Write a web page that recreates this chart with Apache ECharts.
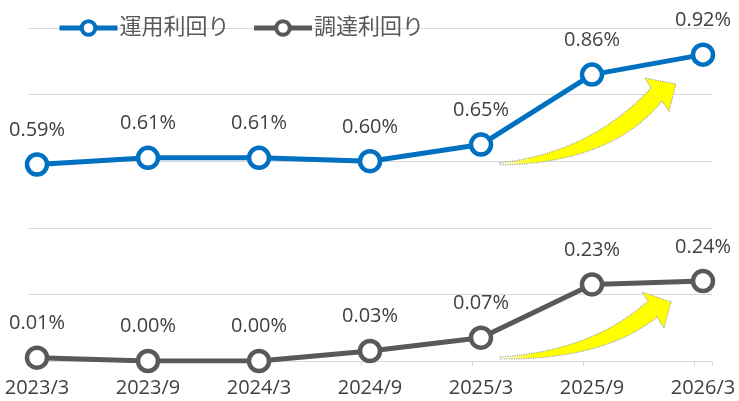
<!DOCTYPE html>
<html>
<head>
<meta charset="utf-8">
<script src="https://cdn.jsdelivr.net/npm/echarts@6/dist/echarts.min.js"></script>
<style>
html,body{margin:0;padding:0;background:#fff;}
#chart{width:739px;height:401px;}
</style>
</head>
<body>
<div id="chart"></div>
<script>
const categories = ['2023/3','2023/9','2024/3','2024/9','2025/3','2025/9','2026/3'];
const seriesNames = ['運用利回り','調達利回り'];
const yieldInvest = [0.59, 0.61, 0.61, 0.60, 0.65, 0.86, 0.92];
const yieldFund = [0.01, 0.00, 0.00, 0.03, 0.07, 0.23, 0.24];

const chart = echarts.init(document.getElementById('chart'), null, {renderer:'canvas'});
const FONT = '"Open Sans","Noto Sans CJK JP",sans-serif';

// decorative curved arrow outline
function quad(p0, c, p1, n){
  const pts = [];
  for (let i = 0; i <= n; i++){
    const t = i / n, u = 1 - t;
    pts.push([u*u*p0[0] + 2*u*t*c[0] + t*t*p1[0], u*u*p0[1] + 2*u*t*c[1] + t*t*p1[1]]);
  }
  return pts;
}
function arrowPoints(tail, upC, upEnd, barb1, tip, barb2, lowStart, lowC, tail2){
  return [].concat(quad(tail, upC, upEnd, 24), [barb1, tip, barb2], quad(lowStart, lowC, tail2, 24));
}
function arrowFill(){
  return {type:'linear', x:0, y:0, x2:1, y2:0, global:false, colorStops:[
    {offset:0,color:'rgba(255,255,0,0)'},
    {offset:0.2,color:'#FFFF00'},
    {offset:1,color:'#FFFF00'}
  ]};
}
const arrowStyle = () => ({fill: arrowFill(), stroke:'#A6A6A6', lineWidth:1.2, lineDash:[1.2,1.2]});

const lineSeries = (name, data, color, z) => ({
  name, type:'line', data, xAxisIndex:1, yAxisIndex:1, z,
  symbol:'circle', symbolSize:20,
  lineStyle:{color, width:5},
  itemStyle:{color:'#fff', borderColor:color, borderWidth:4.5},
  label:{show:true, position:'top', distance:12, color:'#404040', fontSize:20, fontFamily:FONT,
    formatter: p => p.value.toFixed(2) + '%'},
  emphasis:{disabled:true},
  animation:false
});

chart.setOption({
  backgroundColor:'#fff',
  animation:false,
  legend:{
    data: seriesNames,
    left:52, top:12, itemGap:22, itemWidth:58, itemHeight:17,
    lineStyle:{width:5},
    itemStyle:{borderWidth:4},
    textStyle:{color:'#595959', fontSize:22, fontFamily:FONT, padding:[0,0,0,-3]}
  },
  grid:[
    {left:28, right:27, top:28, bottom:40},
    {left:37, right:36, top:28, bottom:40}
  ],
  xAxis:[
    {type:'value', gridIndex:0, min:0, max:684/111, interval:1,
     axisLine:{show:true, lineStyle:{color:'#D9D9D9', width:1}},
     axisTick:{show:true, length:5, lineStyle:{color:'#D9D9D9'}},
     axisLabel:{show:false}, splitLine:{show:false}},
    {type:'category', gridIndex:1, data:categories, boundaryGap:false,
     axisLine:{show:false}, axisTick:{show:false}, splitLine:{show:false},
     axisLabel:{color:'#404040', fontSize:20, fontFamily:FONT, margin:17}}
  ],
  yAxis:[
    {type:'value', gridIndex:0, min:0, max:1, interval:0.2,
     axisLine:{show:false}, axisTick:{show:false}, axisLabel:{show:false},
     splitLine:{show:true, lineStyle:{color:'#D9D9D9', width:1}}},
    {type:'value', gridIndex:1, min:0, max:1, interval:0.2, show:false,
     splitLine:{show:false}}
  ],
  graphic:[
    {type:'polygon', z:1, shape:{points: arrowPoints([500,163],[592,152],[651,88],[645,78],[676,84],[669,111],[662,101],[612,163],[500,165])}, style:arrowStyle()},
    {type:'polygon', z:1, shape:{points: arrowPoints([500,357],[592,351],[648,301],[642,292],[671,302],[664,328],[657,317],[604,360],[500,359])}, style:arrowStyle()}
  ],
  series:[
    lineSeries(seriesNames[0], yieldInvest, '#0070C0', 4),
    lineSeries(seriesNames[1], yieldFund, '#595959', 3)
  ]
});
</script>
</body>
</html>
